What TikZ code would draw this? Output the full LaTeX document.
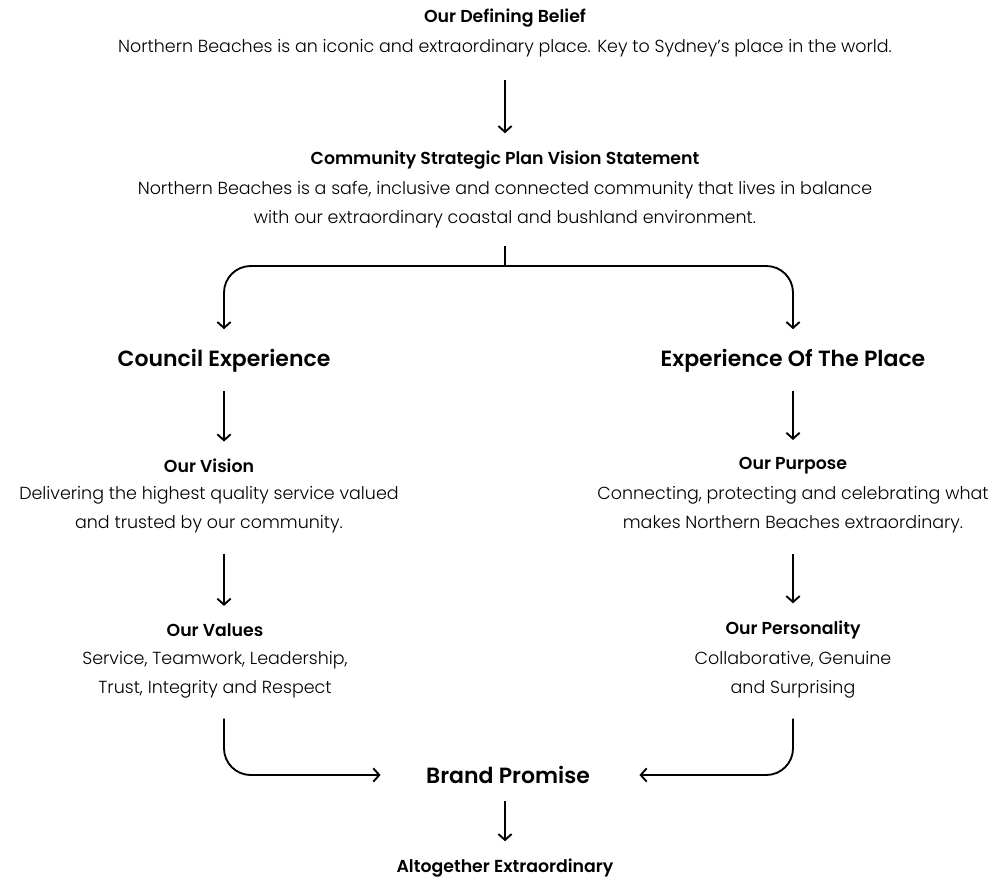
\documentclass[tikz,border=0pt]{standalone}
\usepackage{fontspec}
\setmainfont{Poppins Light}[BoldFont={Poppins SemiBold}]
\usetikzlibrary{arrows.meta}
\begin{document}
\begin{tikzpicture}[x=0.75pt,y=-0.75pt,
  title/.style={font=\bfseries\fontsize{13}{15}\selectfont,inner sep=0pt},
  body/.style={font=\fontsize{13.1}{21.75}\selectfont,align=center,inner sep=0pt},
  head/.style={font=\bfseries\fontsize{16.5}{20}\selectfont,inner sep=0pt},
  link/.style={line width=1.4pt,-{Straight Barb[length=4.5pt,width=10pt]},
    shorten <=15pt,shorten >=14pt}]
\useasboundingbox (0,0) rectangle (995,881);
\node[title] (belief) at (505,18) {Our Defining Belief};
\node[body] (belieftext) at (505,48) {Northern Beaches is an iconic and extraordinary place. Key to Sydney's place in the world.};
\node[title] (csp) at (505,160) {Community Strategic Plan Vision Statement};
\node[body] (csptext) at (505,205) {Northern Beaches is a safe, inclusive and connected community that lives in balance\\with our extraordinary coastal and bushland environment.};
\coordinate (split) at (505,266);
\node[head] (council) at (224,361) {Council Experience};
\node[head] (place) at (793,361) {Experience Of The Place};
\node[title] (vision) at (209,466) {Our Vision};
\node[body] (visiontext) at (209,510) {Delivering the highest quality service valued\\and trusted by our community.};
\node[title] (purpose) at (793,466) {Our Purpose};
\node[body] (purposetext) at (793,510) {Connecting, protecting and celebrating what\\makes Northern Beaches extraordinary.};
\node[title] (values) at (215,630) {Our Values};
\node[body] (valuestext) at (215,675) {Service, Teamwork, Leadership,\\Trust, Integrity and Respect};
\node[title] (personality) at (793,630) {Our Personality};
\node[body] (personalitytext) at (793,675) {Collaborative, Genuine\\and Surprising};
\node[head] (brand) at (508,775) {Brand Promise};
\node[title] (together) at (505,868) {Altogether Extraordinary};
\draw[link,shorten <=17pt,shorten >=13pt] (belieftext.south) -- (csp.north);
\draw[line width=1.4pt,shorten <=13pt] (csptext.south) -- (split);
\draw[link,rounded corners=20pt,shorten <=0pt,shorten >=15pt] (split) -| (council.north);
\draw[link,rounded corners=20pt,shorten <=0pt,shorten >=15pt] (split) -| (place.north);
\draw[link,shorten <=14pt,shorten >=13pt] (council.south) -- (council.south |- vision.north);
\draw[link,shorten <=14pt,shorten >=13pt] (place.south) -- (place.south |- purpose.north);
\draw[link,shorten <=15pt,shorten >=13pt] (council.south |- visiontext.south) -- (council.south |- values.north);
\draw[link,shorten <=15pt,shorten >=13pt] (place.south |- purposetext.south) -- (place.south |- personality.north);
\draw[link,rounded corners=20pt,shorten <=15pt,shorten >=34pt] (council.south |- valuestext.south) |- (brand.west);
\draw[link,rounded corners=20pt,shorten <=15pt,shorten >=37pt] (place.south |- personalitytext.south) |- (brand.east);
\draw[link,shorten <=13pt,shorten >=13pt] (together.north |- brand.south) -- (together.north);
\end{tikzpicture}
\end{document}
